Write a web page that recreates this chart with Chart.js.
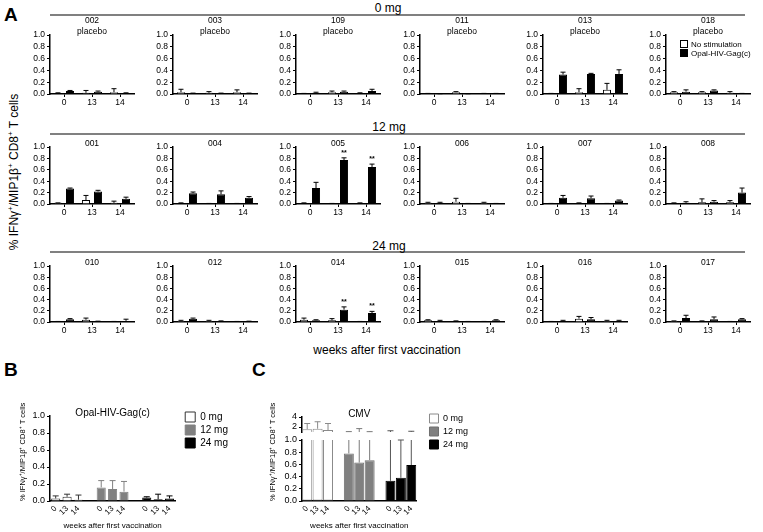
<!DOCTYPE html>
<html>
<head>
<meta charset="utf-8">
<script src="https://cdn.jsdelivr.net/npm/chart.js@4.4.1/dist/chart.umd.min.js"></script>
<style>
  body { margin: 0; width: 763px; height: 532px; position: relative; overflow: hidden; background: #fff;
         font-family: "Liberation Sans", Arial, sans-serif; color: #000; }
  canvas { position: absolute; }
  .lbl { position: absolute; white-space: nowrap; transform: translate(-50%, -50%); line-height: 1; }
  .letter { position: absolute; font-weight: bold; font-size: 19px; line-height: 1; }
  .rule { position: absolute; left: 50px; width: 695px; height: 2px; background: #808080; }
  sup { font-size: 8px; vertical-align: 5px; line-height: 0; }
</style>
</head>
<body>
<div class="letter" style="left:4px;top:5px">A</div>
<div class="letter" style="left:4px;top:360px">B</div>
<div class="letter" style="left:252px;top:360px">C</div>

<div class="rule" style="top:14px"></div>
<div class="rule" style="top:133px"></div>
<div class="rule" style="top:251px"></div>
<div class="lbl" style="left:388px;top:8px;font-size:12px">0 mg</div>
<div class="lbl" style="left:389px;top:127px;font-size:12px">12 mg</div>
<div class="lbl" style="left:389px;top:246px;font-size:12px">24 mg</div>
<div class="lbl" style="left:387px;top:350px;font-size:12px">weeks after first vaccination</div>
<div class="lbl" style="left:14px;top:172px;font-size:12px;transform:translate(-50%,-50%) rotate(-90deg)">% IFNγ<sup>+</sup>/MIP1β<sup>+</sup> CD8<sup>+</sup> T cells</div>

<script>
// ---- data (A): one triple (weeks 0, 13, 14) per subject ----
const weeks = ['0', '13', '14'];

const ids0mg = ['002', '003', '109', '011', '013', '018'];
const noStim0mg   = [[0.01, 0.02, 0.03], [0.03, 0.02, 0.03], [0.01, 0.03, 0.01], [0.005, 0.03, 0.005], [0.01, 0.03, 0.07], [0.03, 0.03, 0.02]];
const noStimSd0mg = [[0.01, 0.04, 0.06], [0.05, 0.02, 0.04], [0, 0.02, 0.01], [0.005, 0.01, 0.005], [0, 0.06, 0.11], [0.01, 0.01, 0.02]];
const gag0mg      = [[0.05, 0.04, 0.01], [0.01, 0.01, 0.01], [0.02, 0.04, 0.05], [0.005, 0.005, 0.01], [0.33, 0.34, 0.34], [0.04, 0.06, 0.005]];
const gagSd0mg    = [[0.01, 0.01, 0.01], [0.005, 0.005, 0.005], [0.01, 0.01, 0.03], [0, 0, 0], [0.04, 0.01, 0.07], [0.03, 0.01, 0.005]];

const ids12mg = ['001', '004', '005', '006', '007', '008'];
const noStim12mg   = [[0.02, 0.07, 0.02], [0.01, 0.005, 0.005], [0.01, 0.005, 0.01], [0.02, 0.04, 0.02], [0.01, 0.01, 0.005], [0.01, 0.03, 0.03]];
const noStimSd12mg = [[0, 0.08, 0.03], [0.01, 0.005, 0.005], [0.01, 0.005, 0.01], [0.01, 0.06, 0.01], [0, 0.01, 0.005], [0.01, 0.06, 0.03]];
const gag12mg      = [[0.27, 0.22, 0.09], [0.19, 0.17, 0.11], [0.28, 0.77, 0.65], [0.02, 0.005, 0.005], [0.11, 0.10, 0.06], [0.02, 0.04, 0.20]];
const gagSd12mg    = [[0.01, 0.02, 0.03], [0.02, 0.06, 0.02], [0.10, 0.04, 0.05], [0.01, 0.005, 0.005], [0.04, 0.04, 0.01], [0.02, 0.02, 0.08]];
const sig12mg      = [null, null, ['', '**', '**'], null, null, null];

const ids24mg = ['010', '012', '014', '015', '016', '017'];
const noStim24mg   = [[0.005, 0.04, 0.005], [0.02, 0.02, 0.005], [0.04, 0.03, 0.01], [0.03, 0.01, 0.005], [0.01, 0.06, 0.02], [0.02, 0.01, 0.005]];
const noStimSd24mg = [[0.005, 0.03, 0.005], [0.01, 0.01, 0.005], [0.03, 0.03, 0], [0.01, 0.01, 0.005], [0, 0.04, 0.01], [0, 0.01, 0.005]];
const gag24mg      = [[0.05, 0.01, 0.02], [0.06, 0.01, 0.01], [0.03, 0.22, 0.16], [0.02, 0.005, 0.03], [0.02, 0.05, 0.02], [0.07, 0.05, 0.05]];
const gagSd24mg    = [[0.01, 0.005, 0.03], [0.01, 0.01, 0.005], [0.01, 0.05, 0.03], [0.01, 0.005, 0.01], [0.01, 0.03, 0.01], [0.05, 0.04, 0.01]];
const sig24mg      = [null, null, ['', '**', '**'], null, null, null];

// ---- data (B, C): per dose group, weeks 0, 13, 14 ----
const doseLabels = ['0 mg', '12 mg', '24 mg'];
const groupedWeeks = ['0', '13', '14', '', '0', '13', '14', '', '0', '13', '14'];

const gagB0mg = [0.03, 0.05, 0.015];   const gagB0mgSd = [0.03, 0.03, 0.055];
const gagB12mg = [0.16, 0.14, 0.11];   const gagB12mgSd = [0.08, 0.10, 0.12];
const gagB24mg = [0.04, 0.02, 0.03];   const gagB24mgSd = [0.01, 0.06, 0.03];

const cmv0mg = [1.55, 1.65, 1.4];      const cmv0mgSd = [1.15, 1.4, 1.3];
const cmv12mg = [0.78, 0.63, 0.67];    const cmv12mgSd = [0.3, 1.05, 0.4];
const cmv24mg = [0.33, 0.38, 0.59];    const cmv24mgSd = [0.92, 0.62, 0.56];

const yTitleSmall = '% IFNγ⁺/MIP1β⁺ CD8⁺ T cells';

Chart.defaults.font.family = "'Liberation Sans', Arial, sans-serif";
Chart.defaults.color = '#000';
Chart.defaults.animation = false;
Chart.defaults.plugins.legend.display = false;
Chart.defaults.plugins.tooltip.enabled = false;

// upward error bars (+ optional significance marks), drawn on one or more y scales
const errorBars = {
  id: 'errorBars',
  afterDatasetsDraw(chart) {
    const ctx = chart.ctx;
    chart.data.datasets.forEach((ds, i) => {
      if (!ds.errTop) return;
      const meta = chart.getDatasetMeta(i);
      const axes = ds.errAxes || [meta.yAxisID];
      const base = ds.errBase || ds.data;
      const half = ds.capHalf || 2.5;
      ctx.save();
      ctx.strokeStyle = ds.errColor || '#000';
      ctx.lineWidth = 1;
      meta.data.forEach((bar, j) => {
        const mean = base[j], top = ds.errTop[j];
        if (mean == null || top == null || isNaN(bar.x)) return;
        axes.forEach(id => {
          const s = chart.scales[id];
          const lo = Math.max(mean, s.min), hi = Math.min(top, s.max);
          ctx.beginPath();
          if (hi > lo) {
            ctx.moveTo(bar.x, s.getPixelForValue(lo));
            ctx.lineTo(bar.x, s.getPixelForValue(hi));
          }
          if (top > s.min && top <= s.max) {
            const y = s.getPixelForValue(top);
            ctx.moveTo(bar.x - half, y);
            ctx.lineTo(bar.x + half, y);
          }
          ctx.stroke();
        });
        if (ds.sig && ds.sig[j]) {
          const s = chart.scales[axes[0]];
          ctx.fillStyle = '#000';
          ctx.font = "bold 7px 'Liberation Sans'";
          ctx.textAlign = 'center';
          ctx.textBaseline = 'middle';
          ctx.fillText(ds.sig[j], bar.x, s.getPixelForValue(top) - 5);
        }
      });
      ctx.restore();
    });
  }
};

// subject titles above the small plots, and the in-plot legend of the last 0 mg plot
const subjectText = {
  id: 'subjectText',
  afterDraw(chart, args, opts) {
    const {ctx, chartArea} = chart;
    if (!opts.lines) return;
    ctx.save();
    ctx.font = "8.5px 'Liberation Sans'";
    ctx.fillStyle = '#000';
    ctx.textAlign = 'center';
    ctx.textBaseline = 'middle';
    const cx = (chartArea.left + chartArea.right) / 2;
    const n = opts.lines.length;
    opts.lines.forEach((t, k) => ctx.fillText(t, cx, chartArea.top - 3 - (n - 1 - k) * 11.5));
    if (opts.legend) {
      ctx.font = "8px 'Liberation Sans'";
      ctx.textAlign = 'left';
      chart.data.datasets.forEach((ds, k) => {
        const x = chartArea.left + 14, y = chartArea.top + 5 + k * 9;
        ctx.fillStyle = ds.backgroundColor;
        ctx.fillRect(x, y, 8, 8);
        ctx.strokeStyle = ds.borderColor;
        ctx.lineWidth = 1;
        ctx.strokeRect(x + 0.5, y + 0.5, 7, 7);
        ctx.fillStyle = '#000';
        ctx.fillText(ds.label, x + 11, y + 4.5);
      });
    }
    ctx.restore();
  }
};

Chart.register(errorBars, subjectText);

function addCanvas(left, top, w, h) {
  const c = document.createElement('canvas');
  c.width = w; c.height = h;
  c.style.left = left + 'px';
  c.style.top = top + 'px';
  document.body.appendChild(c);
  return c;
}

// ---- panel A ----
const axisLeft = [50, 173, 296, 420, 543, 666];
const rowTop = [35, 147, 266];
const rowBottom = [94, 204, 322];
const YW = 28, PW = 84, TP = 30, XH = 16, RP = 4;

function subjectChart(row, col, lines, white, whiteSd, black, blackSd, sig, legend) {
  const h = rowBottom[row] - rowTop[row];
  const canvas = addCanvas(axisLeft[col] - YW, rowTop[row] - TP, YW + PW + RP, TP + h + XH);
  new Chart(canvas, {
    type: 'bar',
    data: {
      labels: weeks,
      datasets: [
        { label: 'No stimulation', data: white, backgroundColor: '#fff', borderColor: '#000', borderWidth: 1,
          errTop: white.map((v, i) => v + whiteSd[i]) },
        { label: 'Opal-HIV-Gag(c)', data: black, backgroundColor: '#000', borderColor: '#000', borderWidth: 1,
          errTop: black.map((v, i) => v + blackSd[i]), sig: sig }
      ]
    },
    options: {
      responsive: false,
      layout: { padding: { top: TP, right: RP, left: 0, bottom: 0 } },
      datasets: { bar: { categoryPercentage: 0.86, barPercentage: 0.67 } },
      scales: {
        x: {
          grid: { display: true, drawOnChartArea: false, offset: false, tickLength: 3, color: '#000' },
          border: { color: '#000', width: 1.5 },
          ticks: { font: { size: 8.5 }, padding: 1, maxRotation: 0 },
          afterFit: s => { s.height = XH; }
        },
        y: {
          min: 0, max: 1,
          grid: { drawOnChartArea: false, tickLength: 3, color: '#000' },
          border: { color: '#000', width: 1.5 },
          ticks: { stepSize: 0.2, autoSkip: false, font: { size: 8.5 }, padding: 2, callback: v => v.toFixed(1) },
          afterFit: s => { s.width = YW; }
        }
      },
      plugins: { subjectText: { lines: lines, legend: legend } }
    }
  });
}

const rows = [
  [ids0mg, noStim0mg, noStimSd0mg, gag0mg, gagSd0mg, null],
  [ids12mg, noStim12mg, noStimSd12mg, gag12mg, gagSd12mg, sig12mg],
  [ids24mg, noStim24mg, noStimSd24mg, gag24mg, gagSd24mg, sig24mg]
];
rows.forEach((r, ri) => {
  const [ids, ws, wsd, bs, bsd, sigs] = r;
  ids.forEach((id, ci) => {
    const lines = ri === 0 ? [id, 'placebo'] : [id];
    subjectChart(ri, ci, lines, ws[ci], wsd[ci], bs[ci], bsd[ci], sigs ? sigs[ci] : null, ri === 0 && ci === 5);
  });
});

// ---- panels B and C: three dose groups on one category axis ----
function place(values, g) {
  const out = groupedWeeks.map(() => null);
  values.forEach((v, i) => { out[g * 4 + i] = v; });
  return out;
}

const groupStyleB = [
  { fill: '#fff', line: '#333', err: '#333' },
  { fill: '#808080', line: '#808080', err: '#808080' },
  { fill: '#000', line: '#000', err: '#000' }
];
const groupStyleC = [
  { fill: '#fff', line: '#8a8a8a', err: '#8a8a8a' },
  { fill: '#808080', line: '#707070', err: '#7a7a7a' },
  { fill: '#000', line: '#000', err: '#555' }
];

function xAxisSmall() {
  return {
    type: 'category',
    grid: { display: false, drawTicks: false },
    border: { color: '#000', width: 1.5 },
    ticks: { autoSkip: false, minRotation: 45, maxRotation: 45, font: { size: 8 }, padding: 3 },
    title: { display: true, text: 'weeks after first vaccination', font: { size: 8 }, padding: { top: 0, bottom: 1 } },
    afterFit: s => { s.height = 31; }
  };
}
function padAxis(w) {
  return { type: 'linear', position: 'right', display: true, grid: { display: false }, ticks: { display: false },
           border: { display: false }, afterFit: s => { s.width = w; } };
}

// B
const gagB = [gagB0mg, gagB12mg, gagB24mg];
const gagBSd = [gagB0mgSd, gagB12mgSd, gagB24mgSd];
new Chart(addCanvas(18, 396, 220, 136), {
  type: 'bar',
  data: {
    labels: groupedWeeks,
    datasets: doseLabels.map((lab, g) => ({
      label: lab, yAxisID: 'y', grouped: false,
      data: place(gagB[g], g),
      backgroundColor: groupStyleB[g].fill, borderColor: groupStyleB[g].line, borderWidth: 1,
      errTop: place(gagB[g].map((v, i) => v + gagBSd[g][i]), g), errColor: groupStyleB[g].err, capHalf: 3
    }))
  },
  options: {
    responsive: false,
    layout: { padding: { top: 13, left: 0, right: 0, bottom: 0 } },
    datasets: { bar: { categoryPercentage: 0.8, barPercentage: 1 } },
    scales: {
      x: xAxisSmall(),
      y: {
        type: 'linear', position: 'left', min: 0, max: 1,
        grid: { drawOnChartArea: false, tickLength: 3, color: '#000' },
        border: { color: '#000', width: 1.5 },
        ticks: { stepSize: 0.2, autoSkip: false, font: { size: 9 }, padding: 2, callback: v => v.toFixed(1) },
        title: { display: true, text: yTitleSmall, align: 'start', font: { size: 7.5 }, padding: { top: 0, bottom: 1 } },
        afterFit: s => { s.width = 32; }
      },
      pad: padAxis(7)
    },
    plugins: {
      title: { display: true, fullSize: false, text: 'Opal-HIV-Gag(c)', color: '#000',
               font: { size: 10, weight: 'normal', lineHeight: 0.6 }, padding: { top: 1, bottom: 0 } },
      legend: { display: true, position: 'right', align: 'start', maxWidth: 80,
                labels: { boxWidth: 10, boxHeight: 10, padding: 3, font: { size: 10 }, color: '#000' } }
    }
  }
});

// C (broken y axis: 0-1 below, 1-4 above)
const cmv = [cmv0mg, cmv12mg, cmv24mg];
const cmvSd = [cmv0mgSd, cmv12mgSd, cmv24mgSd];
const lowSets = doseLabels.map((lab, g) => ({
  label: lab, yAxisID: 'yLow', grouped: false,
  data: place(cmv[g].map(v => Math.min(v, 1)), g),
  backgroundColor: groupStyleC[g].fill, borderColor: groupStyleC[g].line, borderWidth: 1,
  borderSkipped: c => (c.raw >= 1 ? 'top' : 'start'),
  errBase: place(cmv[g], g),
  errTop: place(cmv[g].map((v, i) => v + cmvSd[g][i]), g),
  errAxes: ['yLow', 'yHigh'], errColor: groupStyleC[g].err, capHalf: 3
}));
const highSets = doseLabels.map((lab, g) => ({
  label: lab + ' upper', yAxisID: 'yHigh', grouped: false,
  data: place(cmv[g].map(v => (v > 1 ? [1, v] : null)), g),
  backgroundColor: groupStyleC[g].fill, borderColor: groupStyleC[g].line, borderWidth: 1
}));
const leftW = s => { s.width = 34; };
new Chart(addCanvas(268, 397, 210, 135), {
  type: 'bar',
  data: { labels: groupedWeeks, datasets: lowSets.concat(highSets) },
  options: {
    responsive: false,
    layout: { padding: { top: 13, left: 0, right: 0, bottom: 0 } },
    datasets: { bar: { categoryPercentage: 0.96, barPercentage: 1 } },
    scales: {
      x: xAxisSmall(),
      yLow: {
        type: 'linear', position: 'left', stack: 'cmv', stackWeight: 61, min: 0, max: 1,
        grid: { drawOnChartArea: false, tickLength: 3, color: '#000' },
        border: { color: '#000', width: 1.5 },
        ticks: { stepSize: 0.2, autoSkip: false, font: { size: 9 }, padding: 2, callback: v => v.toFixed(1) },
        title: { display: true, text: yTitleSmall, align: 'start', font: { size: 7.5 }, padding: { top: 0, bottom: 1 } },
        afterFit: leftW
      },
      yGap: {
        type: 'linear', position: 'left', stack: 'cmv', stackWeight: 8, display: true,
        grid: { display: false }, ticks: { display: false }, border: { display: false },
        afterFit: leftW
      },
      yHigh: {
        type: 'linear', position: 'left', stack: 'cmv', stackWeight: 15, min: 1, max: 4,
        grid: { drawOnChartArea: false, tickLength: 3, color: '#000' },
        border: { color: '#000', width: 1.5 },
        ticks: { autoSkip: false, font: { size: 9 }, padding: 2 },
        afterBuildTicks: s => { s.ticks = [{ value: 2 }, { value: 4 }]; },
        afterFit: leftW
      },
      pad: padAxis(9)
    },
    plugins: {
      title: { display: true, fullSize: false, text: 'CMV', color: '#000',
               font: { size: 10, weight: 'normal', lineHeight: 0.6 }, padding: { top: 1, bottom: 0 } },
      legend: { display: true, position: 'right', align: 'start', maxWidth: 80,
                labels: { boxWidth: 9, boxHeight: 9, padding: 4, font: { size: 9 }, color: '#000',
                          filter: item => item.datasetIndex < 3 } }
    }
  }
});
</script>
</body>
</html>
